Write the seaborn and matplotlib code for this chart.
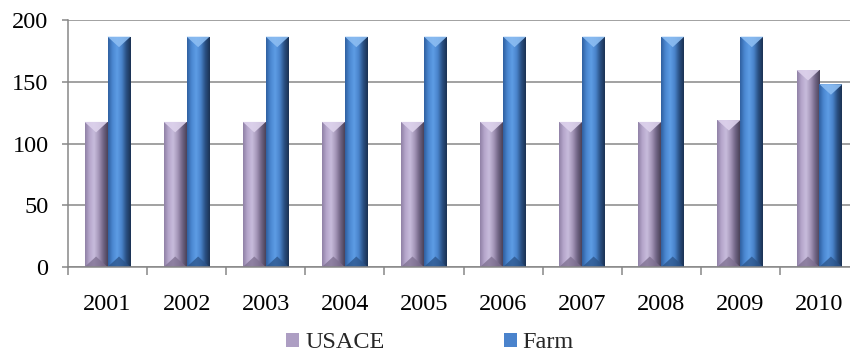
import numpy as np
import pandas as pd
import matplotlib
matplotlib.use("Agg")
import matplotlib.pyplot as plt
from matplotlib.colors import LinearSegmentedColormap
from matplotlib.patches import Polygon, Rectangle
import seaborn as sns

# Data
years = ["2001", "2002", "2003", "2004", "2005", "2006", "2007", "2008", "2009", "2010"]
usace = [117.5, 117.5, 117.5, 117.5, 117.5, 117.5, 117.5, 117.5, 119, 159.5]
farm = [186.5, 186.5, 186.5, 186.5, 186.5, 186.5, 186.5, 186.5, 186.5, 148]
series_names = ["USACE", "Farm"]
y_ticks = [0, 50, 100, 150, 200]

df = pd.DataFrame({
    "year": years * 2,
    "value": usace + farm,
    "series": [series_names[0]] * len(years) + [series_names[1]] * len(years),
})

sns.set_theme(style="white")
plt.rcParams["font.family"] = ["Liberation Serif", "DejaVu Serif"]
FS = 17.5

base = {"USACE": "#ad9ec3", "Farm": "#4a83cc"}
shade_stops = {
    "USACE": ["#8f80a5", "#b6a7cc", "#c8bcdc", "#a597b9", "#716585", "#4a4258"],
    "Farm": ["#2f5f9e", "#4b87d1", "#5e9de5", "#4a84cc", "#2a5083", "#1b3152"],
}
top_cap = {"USACE": "#ddd2ec", "Farm": "#8cbdf2"}
bottom_cap = {"USACE": "#7c6e8f", "Farm": "#2b5388"}

fig = plt.figure(figsize=(8.5, 3.56), dpi=100)
ax = fig.add_axes([68 / 850, 89 / 356, 791 / 850, 247 / 356])

sns.barplot(data=df, x="year", y="value", hue="series", order=years,
            hue_order=series_names, palette=base, width=0.58, gap=0,
            linewidth=0, saturation=1, ax=ax, legend=True)

ax.set_ylim(0, 200)
ax.set_xlim(-0.5, len(years) - 0.5)

# Beveled shading for every bar, using the geometry of the drawn bars
bars = [p for p in ax.patches if isinstance(p, Rectangle) and p.get_height() > 0]
n = len(years)
for i, bar in enumerate(bars):
    name = series_names[i // n]
    x0, w, h = bar.get_x(), bar.get_width(), bar.get_height()
    cmap = LinearSegmentedColormap.from_list(name, shade_stops[name])
    grad = np.linspace(0, 1, 200).reshape(1, -1)
    im = ax.imshow(grad, cmap=cmap, aspect="auto", extent=[x0, x0 + w, 0, h],
                   zorder=bar.get_zorder() + 0.1, interpolation="bicubic")
    im.set_clip_path(bar)
    d = 8.5
    ax.add_patch(Polygon([[x0, h], [x0 + w, h], [x0 + w * 0.5, h - d]], closed=True,
                         facecolor=top_cap[name], edgecolor="none", alpha=0.9,
                         zorder=bar.get_zorder() + 0.2))
    ax.add_patch(Polygon([[x0, 0], [x0 + w, 0], [x0 + w * 0.5, d]], closed=True,
                         facecolor=bottom_cap[name], edgecolor="none", alpha=0.75,
                         zorder=bar.get_zorder() + 0.2))

ax.set_xlim(-0.5, len(years) - 0.5)
ax.set_ylim(0, 200)

# Axes styling
grid_c = "#878787"
ax.set_yticks(y_ticks)
ax.yaxis.grid(True, color=grid_c, linewidth=1.1)
ax.set_axisbelow(True)
for s in ["top", "right"]:
    ax.spines[s].set_visible(False)
for s in ["left", "bottom"]:
    ax.spines[s].set_color(grid_c)
    ax.spines[s].set_linewidth(1.1)
ax.set_xlabel("")
ax.set_ylabel("")
ax.set_xticks(np.arange(len(years)))
ax.set_xticklabels(years)
ax.set_xticks(np.arange(len(years) + 1) - 0.5, minor=True)
ax.tick_params(axis="x", which="major", length=0, pad=19.5, labelsize=FS, colors="black")
ax.tick_params(axis="x", which="minor", length=6, width=1.1, color=grid_c, direction="out")
ax.tick_params(axis="y", length=4.5, width=1.1, color=grid_c, direction="out",
               pad=9.5, labelsize=FS, colors="black")
ax.tick_params(axis="both", bottom=True, left=True, which="both")

handles, labels = ax.get_legend_handles_labels()
ax.legend_.remove()
fig.legend(handles, labels, loc="center", bbox_to_anchor=(0.506, 0.037),
           ncol=2, frameon=False, fontsize=FS, handlelength=0.53, handleheight=0.53,
           handletextpad=0.25, columnspacing=4.9, borderpad=0)

fig.savefig("out.png", dpi=100)
